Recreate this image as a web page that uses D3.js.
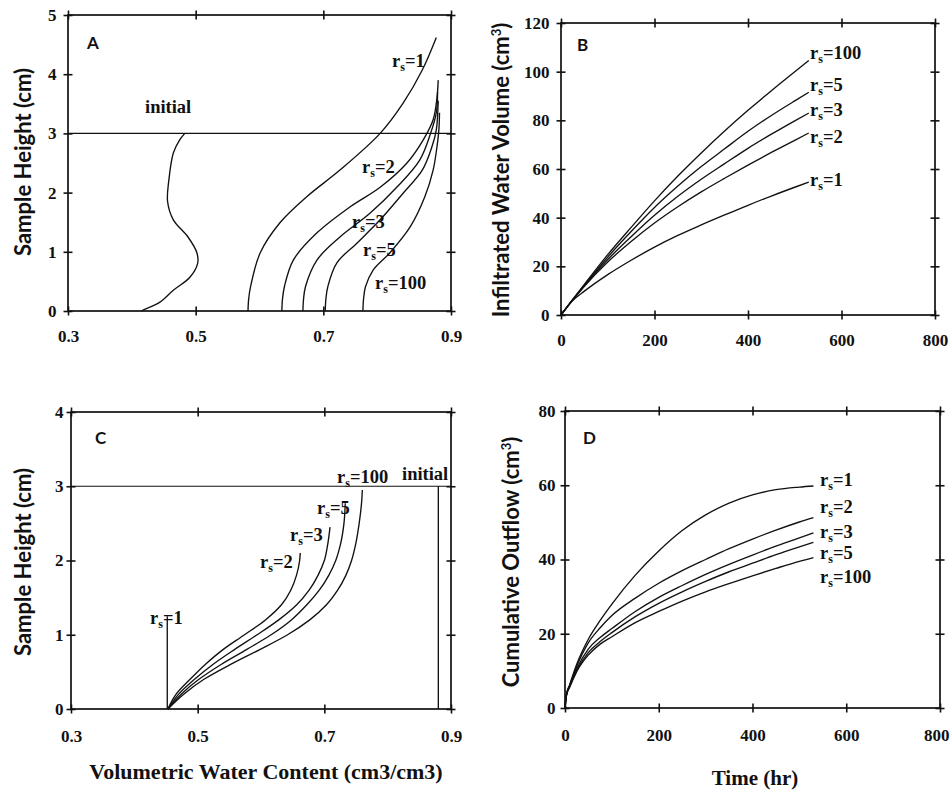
<!DOCTYPE html>
<html>
<head>
<meta charset="utf-8">
<script src="https://cdn.jsdelivr.net/npm/d3@7"></script>
<style>
  body { margin: 0; background: #fff; }
  svg { display: block; }
</style>
</head>
<body>
<svg id="fig" width="950" height="792"></svg>
<script>
// ---------- Panel A: water content profiles, [theta, height] ----------
const initialA = [[0.415,0],[0.421,0.03],[0.444,0.15],[0.465,0.35],[0.491,0.57],[0.503,0.80],[0.502,0.98],[0.488,1.25],[0.465,1.54],[0.456,1.85],[0.458,2.21],[0.465,2.67],[0.475,2.89],[0.483,3.0]];
const rs1A   = [[0.582,0],[0.583,0.2],[0.586,0.41],[0.601,0.98],[0.632,1.49],[0.674,1.93],[0.726,2.38],[0.789,3.0],[0.825,3.51],[0.855,4.07],[0.877,4.62]];
const rs2A   = [[0.635,0],[0.636,0.2],[0.639,0.41],[0.653,0.86],[0.690,1.32],[0.742,1.76],[0.789,2.09],[0.831,2.50],[0.857,2.90],[0.872,3.23],[0.878,3.6],[0.880,3.9]];
const rs3A   = [[0.668,0],[0.669,0.2],[0.672,0.41],[0.690,0.86],[0.726,1.25],[0.773,1.65],[0.815,2.09],[0.851,2.55],[0.868,3.0],[0.877,3.35],[0.879,3.7]];
const rs5A   = [[0.703,0],[0.704,0.2],[0.707,0.41],[0.721,0.81],[0.753,1.15],[0.789,1.54],[0.825,1.99],[0.855,2.38],[0.870,2.77],[0.877,3.06],[0.880,3.55]];
const rs100A = [[0.762,0],[0.763,0.2],[0.766,0.41],[0.778,0.69],[0.804,0.98],[0.836,1.42],[0.859,1.93],[0.872,2.38],[0.878,2.77],[0.881,3.06],[0.882,3.35]];

// ---------- Panel B: infiltrated water volume (cm3) vs time (hr) ----------
const timeB      = [0, 25, 50, 100, 150, 200, 250, 300, 350, 400, 450, 500, 530];
const volB_rs100 = [0, 6.4, 12.6, 24.8, 36.0, 46.9, 57.1, 66.6, 75.6, 84.1, 92.2, 100.0, 104.6];
const volB_rs5   = [0, 6.3, 12.3, 23.8, 34.3, 44.2, 53.0, 61.0, 68.3, 75.5, 82.0, 88.0, 91.5];
const volB_rs3   = [0, 6.2, 12.0, 22.8, 32.2, 41.0, 48.8, 55.8, 62.2, 68.5, 74.3, 79.8, 83.0];
const volB_rs2   = [0, 6.1, 11.8, 21.8, 30.2, 37.8, 44.5, 50.6, 56.2, 61.6, 66.8, 71.8, 74.8];
const volB_rs1   = [0, 5.9, 9.8, 16.6, 22.5, 27.9, 32.7, 37.0, 41.1, 45.1, 48.9, 52.5, 54.6];

// ---------- Panel C: drained water content profiles, [theta, height] ----------
const initialC = [[0.880,0],[0.880,3.0]];
const rs1C   = [[0.452,0],[0.452,1.25]];
const rs2C   = [[0.453,0],[0.466,0.2],[0.488,0.4],[0.512,0.6],[0.540,0.8],[0.574,1.0],[0.607,1.2],[0.632,1.4],[0.647,1.6],[0.656,1.8],[0.661,2.0],[0.662,2.1]];
const rs3C   = [[0.453,0],[0.470,0.2],[0.495,0.4],[0.524,0.6],[0.558,0.8],[0.594,1.0],[0.628,1.2],[0.656,1.4],[0.676,1.6],[0.690,1.8],[0.700,2.0],[0.705,2.2],[0.709,2.45]];
const rs5C   = [[0.453,0],[0.474,0.2],[0.502,0.4],[0.537,0.6],[0.577,0.8],[0.616,1.0],[0.648,1.2],[0.672,1.4],[0.692,1.6],[0.707,1.8],[0.718,2.0],[0.725,2.2],[0.731,2.5],[0.733,2.77]];
const rs100C = [[0.453,0],[0.478,0.2],[0.510,0.4],[0.552,0.6],[0.598,0.8],[0.642,1.0],[0.677,1.2],[0.703,1.4],[0.721,1.6],[0.734,1.8],[0.743,2.0],[0.749,2.2],[0.755,2.5],[0.759,2.8],[0.760,2.95]];

// ---------- Panel D: cumulative outflow (cm3) vs time (hr) ----------
const timeD      = [0, 3, 10, 25, 50, 75, 100, 150, 200, 250, 300, 350, 400, 450, 500, 530];
const outD_rs1   = [0, 3.6, 6.3, 11.8, 18.6, 23.6, 28.0, 35.8, 42.3, 47.8, 52.0, 55.2, 57.4, 58.8, 59.5, 59.8];
const outD_rs2   = [0, 3.5, 6.1, 11.2, 17.6, 21.6, 24.9, 29.6, 33.6, 37.0, 40.0, 42.9, 45.5, 47.9, 50.1, 51.3];
const outD_rs3   = [0, 3.4, 5.9, 10.5, 15.9, 19.0, 21.4, 26.0, 29.8, 33.0, 36.0, 38.7, 41.2, 43.6, 45.8, 47.2];
const outD_rs5   = [0, 3.4, 5.8, 10.1, 15.0, 17.9, 20.3, 24.6, 28.2, 31.3, 34.1, 36.7, 39.0, 41.3, 43.4, 44.6];
const outD_rs100 = [0, 3.3, 5.6, 9.8, 14.3, 17.2, 19.2, 23.0, 26.0, 28.8, 31.3, 33.5, 35.6, 37.6, 39.5, 40.5];

// ---------- Tick values ----------
const thetaTicks   = [0.3, 0.5, 0.7, 0.9];
const heightTicksA = [0, 1, 2, 3, 4, 5];
const heightTicksC = [0, 1, 2, 3, 4];
const timeTicks    = [0, 200, 400, 600, 800];
const volTicks     = [0, 20, 40, 60, 80, 100, 120];
const outTicks     = [0, 20, 40, 60, 80];
const sampleTop = 3; // top of the soil column (cm)

const svg = d3.select('#fig');
svg.append('rect').attr('width', 950).attr('height', 792).attr('fill', '#fff');

const SERIF = '"Liberation Serif", "Times New Roman", serif';
const SANS = 'Lato, "Open Sans", sans-serif';
const INK = '#111';
const fmt1 = d3.format('.1f');
const fmtInt = d3.format('d');

function panel(cfg) {
  const x = d3.scaleLinear().domain(cfg.xDomain).range([cfg.left, cfg.right]);
  const y = d3.scaleLinear().domain(cfg.yDomain).range([cfg.bottom, cfg.top]);
  const g = svg.append('g');

  // ticks crossing every side of the frame
  const sides = [
    { ax: d3.axisBottom(x).tickValues(cfg.xTicks), at: [0, cfg.bottom], fmt: cfg.xFmt, pad: cfg.xPad, bottom: true },
    { ax: d3.axisTop(x).tickValues(cfg.xTicks),    at: [0, cfg.bottom] },
    { ax: d3.axisLeft(y).tickValues(cfg.yTicks),   at: [cfg.left, 0], fmt: cfg.yFmt, pad: cfg.yPad },
    { ax: d3.axisRight(y).tickValues(cfg.yTicks),  at: [cfg.left, 0] },
    { ax: d3.axisTop(x).tickValues(cfg.xTicks),    at: [0, cfg.top] },
    { ax: d3.axisBottom(x).tickValues(cfg.xTicks), at: [0, cfg.top] },
    { ax: d3.axisRight(y).tickValues(cfg.yTicks),  at: [cfg.right, 0] },
    { ax: d3.axisLeft(y).tickValues(cfg.yTicks),   at: [cfg.right, 0] }
  ];
  sides.forEach(s => {
    s.ax.tickSizeOuter(0).tickSizeInner(4.5);
    if (s.fmt) s.ax.tickPadding(s.pad).tickFormat(s.fmt);
    else s.ax.tickFormat('');
    const a = g.append('g').attr('transform', `translate(${s.at[0]},${s.at[1]})`).call(s.ax);
    a.select('.domain').remove();
    a.selectAll('line').attr('stroke', INK).attr('stroke-width', 1.6);
    a.selectAll('text').attr('fill', INK).style('font-family', SERIF)
      .style('font-weight', 'bold').style('font-size', '17px');
    // keep the last bottom label inside the page
    if (s.bottom && cfg.lastLabelEnd) {
      a.selectAll('text').filter((d, i, n) => i === n.length - 1)
        .attr('text-anchor', 'end').attr('x', cfg.lastLabelEnd);
    }
  });

  // frame
  g.append('rect')
    .attr('x', x.range()[0]).attr('y', y.range()[1])
    .attr('width', x.range()[1] - x.range()[0]).attr('height', y.range()[0] - y.range()[1])
    .attr('fill', 'none').attr('stroke', INK).attr('stroke-width', 1.7);

  // curves
  const lineXY = d3.line().x(d => x(d[0])).y(d => y(d[1])).curve(cfg.curve);
  cfg.series.forEach(s => {
    g.append('path').datum(s).attr('d', lineXY)
      .attr('fill', 'none').attr('stroke', INK).attr('stroke-width', 1.35)
      .attr('stroke-linejoin', 'round');
  });

  // horizontal line at the top of the sample
  if (cfg.hline !== undefined) {
    g.append('line')
      .attr('x1', x.range()[0]).attr('x2', x.range()[1])
      .attr('y1', y(cfg.hline)).attr('y2', y(cfg.hline))
      .attr('stroke', INK).attr('stroke-width', 1.2);
  }

  // panel letter
  g.append('text').attr('x', cfg.letter[1]).attr('y', cfg.letter[2])
    .text(cfg.letter[0]).attr('fill', INK)
    .style('font-family', SANS).style('font-weight', 'bold').style('font-size', '17px');

  // curve labels
  cfg.labels.forEach(l => {
    const t = g.append('text').attr('x', l.x).attr('y', l.y).attr('fill', INK)
      .style('font-family', SERIF).style('font-weight', 'bold').style('font-size', '18.5px');
    if (l.rs !== undefined) {
      t.append('tspan').text('r');
      t.append('tspan').text('s').attr('dy', 4).style('font-size', '12px');
      t.append('tspan').text('=' + l.rs).attr('dy', -4);
    } else {
      t.text(l.text);
    }
  });

  // y-axis title
  const yt = g.append('text')
    .attr('transform', `translate(${cfg.yTitle.x},${cfg.yTitle.y}) rotate(-90)`)
    .attr('text-anchor', 'middle').attr('fill', INK)
    .style('font-family', SANS).style('font-weight', 'bold').style('font-size', '22px');
  yt.append('tspan').text(cfg.yTitle.text);
  if (cfg.yTitle.sup) {
    yt.append('tspan').text('3').attr('dy', -8).style('font-size', '13px');
    yt.append('tspan').text(')').attr('dy', 8);
  }
  return { x, y };
}

const toPairs = (ts, vs) => ts.map((t, i) => [t, vs[i]]);

// Panel A
panel({
  xDomain: [0.3, 0.9], yDomain: [0, 5], left: 68, right: 451, top: 15, bottom: 311,
  xTicks: thetaTicks, yTicks: heightTicksA, xPad: 14, yPad: 7, xFmt: fmt1, yFmt: fmtInt,
  curve: d3.curveCatmullRom,
  series: [initialA, rs1A, rs2A, rs3A, rs5A, rs100A], hline: sampleTop,
  letter: ['A', 87, 49],
  labels: [
    { rs: '1', x: 392, y: 67 }, { rs: '2', x: 362, y: 173 }, { rs: '3', x: 352, y: 228 },
    { rs: '5', x: 363, y: 256 }, { rs: '100', x: 375, y: 289 }, { text: 'initial', x: 145, y: 113 }
  ],
  yTitle: { text: 'Sample Height (cm)', x: 31, y: 162 }
});

// Panel B
panel({
  xDomain: [0, 800], yDomain: [0, 120], left: 561, right: 935, top: 23, bottom: 315,
  xTicks: timeTicks, yTicks: volTicks, xPad: 14, yPad: 7, xFmt: fmtInt, yFmt: fmtInt,
  curve: d3.curveMonotoneX,
  series: [volB_rs100, volB_rs5, volB_rs3, volB_rs2, volB_rs1].map(v => toPairs(timeB, v)),
  letter: ['B', 577, 51],
  labels: [
    { rs: '100', x: 810, y: 59 }, { rs: '5', x: 810, y: 91 }, { rs: '3', x: 810, y: 116 },
    { rs: '2', x: 810, y: 143 }, { rs: '1', x: 810, y: 186 }
  ],
  yTitle: { text: 'Infiltrated Water Volume (cm', x: 509, y: 170, sup: true }
});

// Panel C
panel({
  xDomain: [0.3, 0.9], yDomain: [0, 4], left: 71, right: 451, top: 412, bottom: 709,
  xTicks: thetaTicks, yTicks: heightTicksC, xPad: 16, yPad: 3, xFmt: fmt1, yFmt: fmtInt,
  curve: d3.curveMonotoneY,
  series: [initialC, rs1C, rs2C, rs3C, rs5C, rs100C], hline: sampleTop,
  letter: ['C', 95, 444],
  labels: [
    { rs: '100', x: 337, y: 483 }, { text: 'initial', x: 402, y: 480 }, { rs: '5', x: 317, y: 514 },
    { rs: '3', x: 290, y: 541 }, { rs: '2', x: 260, y: 568 }, { rs: '1', x: 150, y: 624 }
  ],
  yTitle: { text: 'Sample Height (cm)', x: 31, y: 562 }
});

// Panel D
panel({
  xDomain: [0, 800], yDomain: [0, 80], left: 565, right: 940, top: 411, bottom: 708,
  xTicks: timeTicks, yTicks: outTicks, xPad: 16, yPad: 5, xFmt: fmtInt, yFmt: fmtInt,
  lastLabelEnd: 9,
  curve: d3.curveMonotoneX,
  series: [outD_rs1, outD_rs2, outD_rs3, outD_rs5, outD_rs100].map(v => toPairs(timeD, v)),
  letter: ['D', 583, 444],
  labels: [
    { rs: '1', x: 820, y: 486 }, { rs: '2', x: 820, y: 513 }, { rs: '3', x: 820, y: 538 },
    { rs: '5', x: 820, y: 559 }, { rs: '100', x: 820, y: 583 }
  ],
  yTitle: { text: 'Cumulative Outflow (cm', x: 519, y: 562, sup: true }
});

// x-axis titles
svg.append('text').attr('x', 266).attr('y', 779).attr('text-anchor', 'middle')
  .attr('fill', INK).style('font-family', SERIF).style('font-weight', 'bold').style('font-size', '22px')
  .text('Volumetric Water Content (cm3/cm3)');
svg.append('text').attr('x', 755).attr('y', 785).attr('text-anchor', 'middle')
  .attr('fill', INK).style('font-family', SERIF).style('font-weight', 'bold').style('font-size', '21px')
  .text('Time (hr)');
</script>
</body>
</html>
